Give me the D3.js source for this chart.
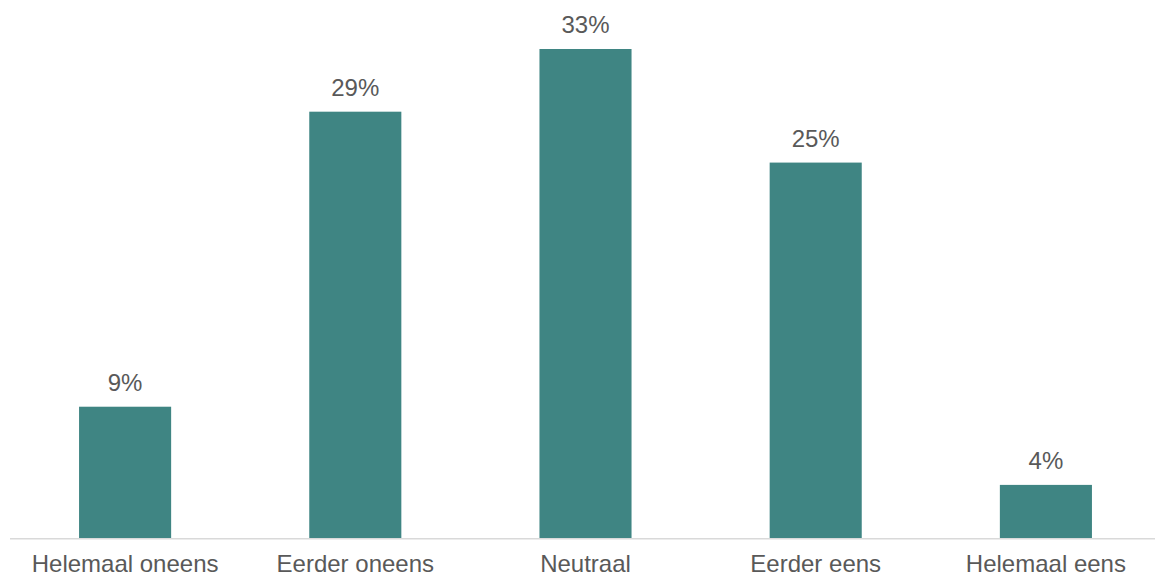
<!DOCTYPE html>
<html>
<head>
<meta charset="utf-8">
<script src="https://cdn.jsdelivr.net/npm/d3@7"></script>
<style>
  html, body { margin: 0; padding: 0; background: #ffffff; }
  svg { display: block; }
</style>
</head>
<body>
<div id="chart"></div>
<script>
const categories = ["Helemaal oneens", "Eerder oneens", "Neutraal", "Eerder eens", "Helemaal eens"];
const values = [8.9, 28.9, 33.15, 25.45, 3.6];
const valueLabels = ["9%", "29%", "33%", "25%", "4%"];

const W = 1155, H = 578;
const baseY = 538;
const svg = d3.select("#chart").append("svg").attr("width", W).attr("height", H);

const x = d3.scaleBand().domain(categories).range([10, 1161]).paddingInner(0.6).paddingOuter(0.3);
const y = d3.scaleLinear().domain([0, 33.15]).range([baseY, 49]);

svg.append("g").selectAll("rect").data(categories).join("rect")
  .attr("x", d => x(d))
  .attr("width", x.bandwidth())
  .attr("y", (d, i) => y(values[i]))
  .attr("height", (d, i) => baseY - y(values[i]))
  .attr("fill", "#3F8583");

svg.append("g").selectAll("text").data(categories).join("text")
  .attr("x", d => x(d) + x.bandwidth() / 2)
  .attr("y", (d, i) => y(values[i]) - 16)
  .attr("text-anchor", "middle")
  .attr("font-family", "Liberation Sans, Arial, sans-serif")
  .attr("font-size", 24)
  .attr("fill", "#595959")
  .text((d, i) => valueLabels[i]);

const axis = d3.axisBottom(x).tickSize(0).tickPadding(0);
const g = svg.append("g").attr("transform", `translate(0,${baseY})`).call(axis);
g.select(".domain").attr("stroke", "#D9D9D9").attr("stroke-width", 1.5).attr("d", "M10,0.75H1161");
g.selectAll(".tick text")
  .attr("font-family", "Liberation Sans, Arial, sans-serif")
  .attr("font-size", 24)
  .attr("fill", "#595959")
  .attr("dy", null)
  .attr("y", 34);
</script>
</body>
</html>
